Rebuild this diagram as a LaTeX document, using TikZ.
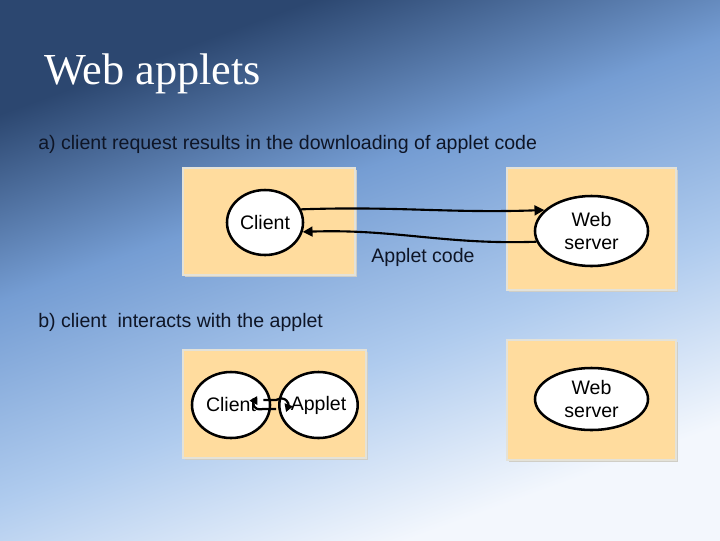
\documentclass[tikz,border=0pt]{standalone}
\usepackage{fontspec}
\setmainfont{Liberation Sans}
\newfontfamily\titlefont{Liberation Serif}
\usepackage{xcolor}
\definecolor{cDark}  {HTML}{2C4770}
\definecolor{cMid}   {HTML}{759DD3}
\definecolor{cPale}  {HTML}{AFCBEE}
\definecolor{cLight} {HTML}{F3F7FD}
\definecolor{cBox}   {HTML}{FFDC9E}
\definecolor{cEdge}  {HTML}{E4E2D8}
\definecolor{cText}  {HTML}{0E1526}
\usetikzlibrary{shapes.geometric, arrows.meta, shadows, calc}
\pgfdeclareverticalshading{slidebg}{100bp}{color(0bp)=(cLight);
  color(27bp)=(cLight); color(42bp)=(cPale); color(58bp)=(cMid);
  color(73bp)=(cDark); color(100bp)=(cDark)}
\tikzset{
  panel/.style = {rectangle, fill=cBox, draw=cEdge, line width=0.8pt,
                  general shadow={fill=cEdge!80!gray, shadow xshift=1.6pt,
                                  shadow yshift=-1.6pt}},
  proc/.style  = {ellipse, draw=black, fill=white, line width=1.8pt,
                  align=center, inner sep=0pt,
                  font=\fontsize{13.9}{16.5}\selectfont},
  head/.style  = {anchor=base west, inner sep=0pt, text=cText,
                  font=\fontsize{13.9}{16.5}\selectfont},
  arr/.style   = {-{Triangle[length=7pt,width=7pt]}, line width=1.5pt},
  sarr/.style  = {-{Triangle[length=5.5pt,width=6pt]}, line width=1.6pt},
}

\begin{document}
\begin{tikzpicture}[x=0.025cm, y=-0.025cm]

  %% Background
  \shade[shading=slidebg, shading angle=20] (0,0) rectangle (720,540);
  \useasboundingbox (0,0) rectangle (720,540);

  %% Title and captions
  \node[anchor=base west, inner sep=0pt, text=white,
        font=\titlefont\fontsize{31.5}{36}\selectfont] (title) at (44,84)
        {Web applets};
  \node[head] (capa) at (38,149)
        {a) client request results in the downloading of applet code};
  \node[head] (capb) at (38,327)
        {b) client\ \ interacts with the applet};

  %% Part a
  \node[panel, minimum width=4.3cm,   minimum height=2.675cm] (boxal)
        at (269,221.5) {};
  \node[panel, minimum width=4.225cm, minimum height=3.05cm]  (boxar)
        at (591.5,229) {};
  \node[proc, minimum width=1.9cm,  minimum height=1.625cm] (clienta)
        at (265,222.5) {Client};
  \node[proc, minimum width=2.825cm, minimum height=1.75cm] (servera)
        at (591.5,231) {Web\\server};
  \node[inner sep=0pt, text=cText,
        font=\fontsize{13.9}{16.5}\selectfont] (code) at (423,257)
        {Applet code};

  %% Part b
  \node[panel, minimum width=4.575cm, minimum height=2.7cm] (boxbl)
        at (274.5,404) {};
  \node[panel, minimum width=4.225cm, minimum height=3.0cm] (boxbr)
        at (591.5,400) {};
  \node[proc, minimum width=1.95cm, minimum height=1.65cm] (clientb)
        at (231,405) {Client};
  \node[proc, minimum width=1.925cm, minimum height=1.65cm] (appletb)
        at (318.5,405) {Applet};
  \node[proc, minimum width=2.825cm, minimum height=1.55cm] (serverb)
        at (591.5,399) {Web\\server};

  %% Arrows
  \draw[arr] (clienta.20) to[out=2, in=182] (servera.156);
  \draw[arr] (servera.191) to[out=182, in=2] (clienta.-14);
  \draw[sarr] ($(clientb.east)+(-8,-5)$) -- ($(appletb.west)+(-2,-5)$)
        .. controls ($(appletb.west)+(8,-10)$) and ($(appletb.west)+(11,-1)$)
        .. ($(appletb.west)+(8,7)$);
  \draw[sarr] ($(appletb.west)+(-2,4)$) -- ($(clientb.east)+(-8,4)$)
        .. controls ($(clientb.east)+(-19,6)$) and ($(clientb.east)+(-18,-2)$)
        .. ($(clientb.east)+(-14,-9)$);

\end{tikzpicture}
\end{document}
